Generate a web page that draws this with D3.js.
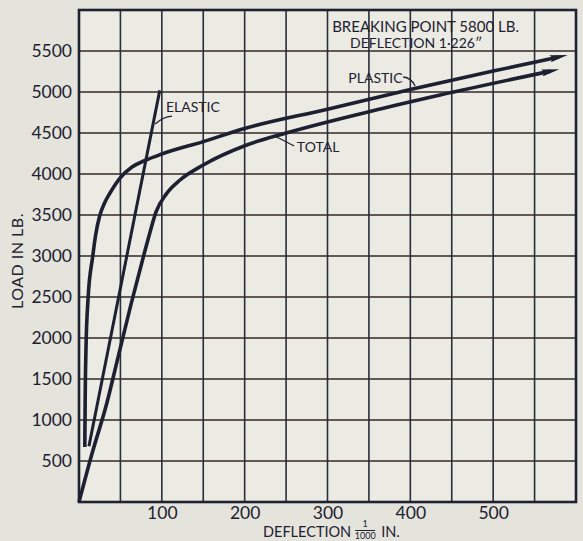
<!DOCTYPE html>
<html><head><meta charset="utf-8">
<script src="https://cdn.jsdelivr.net/npm/d3@7"></script>
<style>
html,body{margin:0;padding:0;background:#e4e4dc;}
svg{display:block;}
text{font-family:Lato,"DejaVu Sans",sans-serif;fill:#1d2030;}
</style></head><body>
<svg id="chart" width="583" height="541"></svg>
<script>
// ---- data (deflection in 1/1000 in., load in lb.) ----
const xTicks = [100, 200, 300, 400, 500];
const yTicks = [500, 1000, 1500, 2000, 2500, 3000, 3500, 4000, 4500, 5000, 5500];
const plasticX = [7, 7.5, 8.5, 11, 16.5, 20, 25, 31, 37.4, 49.5, 64, 79.7, 100, 150, 200, 300, 400, 500, 590];
const plasticY = [670, 1300, 1900, 2490, 2990, 3250, 3490, 3650, 3768, 3951, 4085, 4165, 4244, 4395, 4555, 4790, 5030, 5255, 5450];
const totalX = [0, 16, 33, 48, 63, 79, 86, 93, 105.9, 122, 150, 202.5, 250, 350, 436, 580];
const totalY = [0, 600, 1183, 1800, 2420, 3040, 3300, 3537, 3764, 3927, 4110, 4354, 4500, 4760, 4963, 5277];
const elasticX = [12, 97.5];
const elasticY = [680, 5020];
const labels = ["PLASTIC", "ELASTIC", "TOTAL"];
const noteLines = ["BREAKING POINT 5800 LB.", "DEFLECTION 1\u00b7226\u2033"];

const svg = d3.select("#chart");
const x = d3.scaleLinear().domain([0, 600]).range([79, 576]);
const y = d3.scaleLinear().domain([0, 6000]).range([502, 10]);
const ink = "#1d2030";

// plot background
svg.append("rect").attr("x", x(0)).attr("y", y(6000))
  .attr("width", x(600) - x(0)).attr("height", y(0) - y(6000)).attr("fill", "#ebebe4");

// grid
const grid = svg.append("g").attr("stroke", "#2a2d3a").attr("stroke-width", 1.6);
grid.selectAll("line.v").data(d3.range(50, 600, 50)).join("line")
  .attr("x1", d => x(d)).attr("x2", d => x(d)).attr("y1", y(0)).attr("y2", y(6000));
grid.selectAll("line.h").data(d3.range(500, 6000, 500)).join("line")
  .attr("x1", x(0)).attr("x2", x(600)).attr("y1", d => y(d)).attr("y2", d => y(d))
  .attr("stroke", "#33292a");
svg.append("rect").attr("x", x(0)).attr("y", y(6000))
  .attr("width", x(600) - x(0)).attr("height", y(0) - y(6000))
  .attr("fill", "none").attr("stroke", "#1f2230").attr("stroke-width", 2.6);

// axes (labels only)
const fmt = d3.format("d");
const gx = svg.append("g").attr("transform", `translate(0,${y(0)})`)
  .call(d3.axisBottom(x).tickValues(xTicks).tickFormat(fmt).tickSize(0).tickPadding(5));
const gy = svg.append("g").attr("transform", `translate(${x(0)},0)`)
  .call(d3.axisLeft(y).tickValues(yTicks).tickFormat(fmt).tickSize(0).tickPadding(7));
[gx, gy].forEach(g => {
  g.select(".domain").remove();
  g.attr("font-family", null).attr("font-size", null);
  g.selectAll("text").style("font-size", "17.5px").attr("fill", ink);
});

// arrow marker
const defs = svg.append("defs");
defs.append("marker").attr("id", "arrow").attr("viewBox", "0 -5 20 10")
  .attr("refX", 18).attr("refY", 0).attr("markerUnits", "userSpaceOnUse")
  .attr("markerWidth", 20).attr("markerHeight", 10).attr("orient", "auto")
  .append("path").attr("d", "M0,-3.6 L18,0 L0,3.6 L3,0 Z").attr("fill", ink);

const line = d3.line().x(d => x(d[0])).y(d => y(d[1])).curve(d3.curveMonotoneX);
const zip = (a, b) => a.map((v, i) => [v, b[i]]);

function drawCurve(pts, w, arrow) {
  const p = svg.append("path").attr("d", line(pts)).attr("fill", "none")
    .attr("stroke", ink).attr("stroke-width", w).attr("stroke-linecap", "butt");
  if (arrow) {
    const L = p.node().getTotalLength();
    p.attr("stroke-dasharray", `${L - 9} ${L + 20}`);
    const end = pts[pts.length - 1];
    const prev = p.node().getPointAtLength(L - 14);
    svg.append("line").attr("x1", prev.x).attr("y1", prev.y)
      .attr("x2", x(end[0])).attr("y2", y(end[1]))
      .attr("stroke", "none").attr("marker-end", "url(#arrow)");
  }
}
drawCurve(zip(plasticX, plasticY), 3.6, true);
drawCurve(zip(totalX, totalY), 3.6, true);
drawCurve(zip(elasticX, elasticY), 3.0, false);

// curve labels with leaders (data coordinates)
const lab = svg.append("g").style("font-size", "14px");
const labPos = [[325.2, 5106], [105, 4760], [263, 4272]];
lab.selectAll("text").data(labels).join("text")
  .attr("x", (d, i) => x(labPos[i][0])).attr("y", (d, i) => y(labPos[i][1])).text(d => d);
const leaders = [
  [[391.3, 5183], [401, 5175], [405.8, 5073]],
  [[112.3, 4707], [101, 4697], [92, 4610]],
  [[259.7, 4341], [244, 4427], [238, 4451]]
];
const q = pts => `M${x(pts[0][0])},${y(pts[0][1])} Q${x(pts[1][0])},${y(pts[1][1])} ${x(pts[2][0])},${y(pts[2][1])}`;
svg.append("g").selectAll("path").data(leaders).join("path")
  .attr("d", q).attr("fill", "none").attr("stroke", ink).attr("stroke-width", 1.3);

// breaking point note
const notePos = [[305.6, 5735], [327.3, 5533]];
svg.append("g").selectAll("text").data(noteLines).join("text")
  .attr("x", (d, i) => x(notePos[i][0])).attr("y", (d, i) => y(notePos[i][1]))
  .style("font-size", (d, i) => i === 0 ? "15px" : "14px").text(d => d);

// axis titles
svg.append("text").attr("transform", "translate(23,261) rotate(-90)")
  .attr("text-anchor", "middle").style("font-size", "16px").style("letter-spacing", "0.5px").text("LOAD IN LB.");

const tg = svg.append("g").style("font-size", "14.5px");
const t1 = tg.append("text").attr("x", 263).attr("y", 537).text("DEFLECTION");
const w1 = t1.node().getComputedTextLength();
const fx = 263 + w1 + 14;
tg.append("text").attr("x", fx).attr("y", 527).attr("text-anchor", "middle").style("font-size", "9px").text("1");
tg.append("line").attr("x1", fx - 10).attr("x2", fx + 10).attr("y1", 530.5).attr("y2", 530.5)
  .attr("stroke", ink).attr("stroke-width", 1);
tg.append("text").attr("x", fx).attr("y", 539).attr("text-anchor", "middle").style("font-size", "9px").text("1000");
tg.append("text").attr("x", fx + 16).attr("y", 537).text("IN.");
</script>
</body></html>
